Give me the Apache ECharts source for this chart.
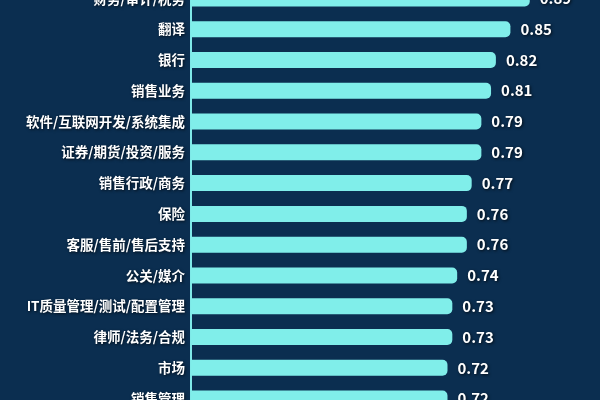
<!DOCTYPE html>
<html>
<head>
<meta charset="utf-8">
<script src="https://cdn.jsdelivr.net/npm/echarts@6/dist/echarts.min.js"></script>
<style>
html,body{margin:0;padding:0;background:#0b2e50;overflow:hidden;width:600px;height:400px;}
#c{position:absolute;left:0;top:-17px;width:600px;height:432px;}
</style>
</head>
<body>
<div id="c"></div>
<script>
const categories = ["财务/审计/税务","翻译","银行","销售业务","软件/互联网开发/系统集成","证券/期货/投资/服务","销售行政/商务","保险","客服/售前/售后支持","公关/媒介","IT质量管理/测试/配置管理","律师/法务/合规","市场","销售管理"];
const values = [0.89,0.85,0.82,0.81,0.79,0.79,0.77,0.76,0.76,0.74,0.73,0.73,0.72,0.72];

const chart = echarts.init(document.getElementById('c'));
chart.setOption({
  backgroundColor: '#0b2e50',
  animation: false,
  grid: { left: 191, right: 17, top: 0, height: 431, containLabel: false },
  xAxis: {
    type: 'value', min: 0.19, max: 1.0, show: false
  },
  yAxis: {
    type: 'category', data: categories, inverse: true,
    axisLine: { show: true, lineStyle: { color: '#7fe9e8', width: 2 } },
    axisTick: { show: false },
    axisLabel: {
      color: '#ffffff', fontSize: 13.5, fontWeight: 'bold', margin: 6,
      fontFamily: 'Noto Sans CJK SC',
      textShadowColor: 'rgba(0,0,0,0.7)', textShadowBlur: 3, textShadowOffsetX: 1, textShadowOffsetY: 1
    }
  },
  series: [{
    type: 'bar', data: values, barWidth: 16,
    itemStyle: { color: '#80eeea', borderRadius: [0, 5, 5, 0] },
    label: {
      show: true, position: 'right', distance: 10,
      color: '#ffffff', fontSize: 15, fontWeight: 'bold', fontFamily: 'Noto Sans CJK SC',
      formatter: p => p.value.toFixed(2),
      textShadowColor: 'rgba(0,0,0,0.75)', textShadowBlur: 3, textShadowOffsetX: 1, textShadowOffsetY: 1
    }
  }]
});
</script>
</body>
</html>
